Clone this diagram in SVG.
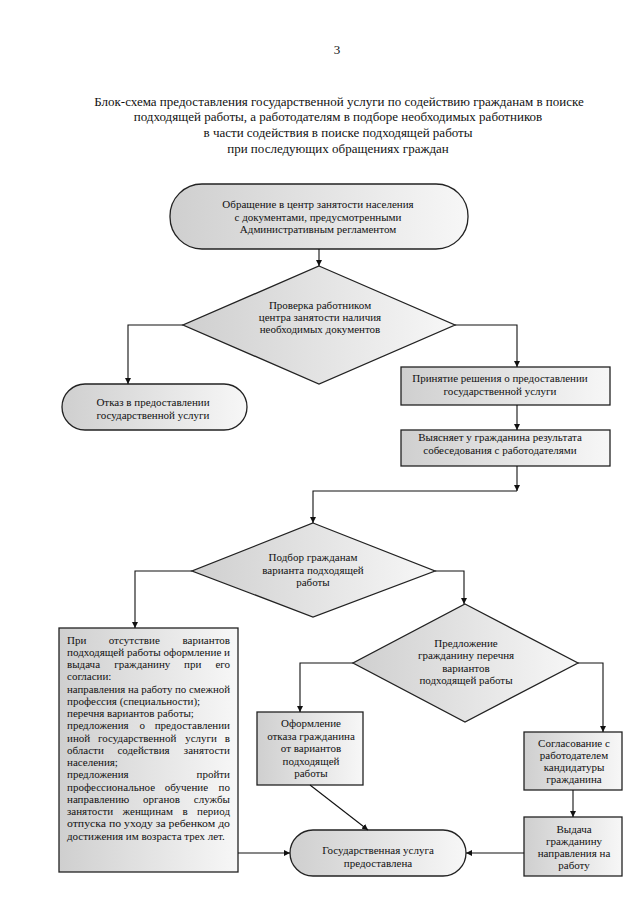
<svg xmlns="http://www.w3.org/2000/svg" width="639" height="905" viewBox="0 0 639 905">
<style>
text{font-family:"Liberation Serif","Times New Roman",serif;fill:#111}
.t{font-size:13px;text-anchor:middle}
.n{font-size:11px;text-anchor:middle}
.b{font-size:11px}
.e{text-anchor:end}
.sh{stroke:#222;stroke-width:1.3;fill:url(#g)}
.ca{fill:none;stroke:#111;stroke-width:1.1;marker-end:url(#a)}
</style>
<defs>
<linearGradient id="g" x1="0" y1="0" x2="1" y2="0">
<stop offset="0" stop-color="#cfcfcf"/>
<stop offset="1" stop-color="#f7f7f7"/>
</linearGradient>
<marker id="a" viewBox="0 0 10 10" refX="10" refY="5" markerWidth="6" markerHeight="6" orient="auto" markerUnits="userSpaceOnUse">
<path d="M0,0 L10,5 L0,10 z" fill="#111"/>
</marker>
</defs>
<rect width="639" height="905" fill="#fff"/>
<text x="337" y="54" class="t">3</text>
<g id="title">
<text x="339" y="106" class="t">Блок-схема предоставления государственной услуги по содействию гражданам в поиске</text>
<text x="338" y="121" class="t">подходящей работы, а работодателям в подборе необходимых работников</text>
<text x="338" y="137" class="t">в части содействия в поиске подходящей работы</text>
<text x="338" y="153" class="t">при последующих обращениях граждан</text>
</g>
<g id="start">
<rect x="170" y="184" width="298" height="65" rx="32" class="sh"/>
<text x="318" y="208" class="n">Обращение в центр занятости населения</text>
<text x="318" y="221" class="n">с документами, предусмотренными</text>
<text x="318" y="233" class="n">Административным регламентом</text>
</g>
<g id="check">
<polygon points="319,266 455,325 319,384 183,325" class="sh"/>
<text x="320" y="309" class="n">Проверка работником</text>
<text x="320" y="321" class="n">центра занятости наличия</text>
<text x="320" y="333" class="n">необходимых документов</text>
</g>
<g id="refuse">
<rect x="62" y="384" width="185" height="46" rx="23" class="sh"/>
<text x="153" y="406" class="n">Отказ в предоставлении</text>
<text x="153" y="419" class="n">государственной услуги</text>
</g>
<g id="decision">
<rect x="401" y="367" width="209" height="38" class="sh"/>
<text x="500" y="382" class="n">Принятие решения о предоставлении</text>
<text x="500" y="395" class="n">государственной услуги</text>
</g>
<g id="interview">
<rect x="401" y="430" width="209" height="36" class="sh"/>
<text x="500" y="441" class="n">Выясняет у гражданина результата</text>
<text x="500" y="454" class="n">собеседования с работодателями</text>
</g>
<g id="select">
<polygon points="313,523 435,571 313,617 192,571" class="sh"/>
<text x="313" y="561" class="n">Подбор гражданам</text>
<text x="313" y="574" class="n">варианта подходящей</text>
<text x="313" y="586" class="n">работы</text>
</g>
<g id="noVariants">
<rect x="59" y="628" width="179" height="244" class="sh"/>
<text class="b" x="67" y="643.5">При</text><text class="b" x="108.7" y="643.5">отсутствие</text><text class="b e" x="230" y="643.5">вариантов</text>
<text class="b" x="67" y="655.8" textLength="163" lengthAdjust="spacingAndGlyphs">подходящей работы оформление и</text>
<text class="b" x="67" y="668">выдача</text><text class="b" x="114.2" y="668">гражданину</text><text class="b" x="184" y="668">при</text><text class="b e" x="230" y="668">его</text>
<text class="b" x="67" y="680.3">согласии:</text>
<text class="b" x="67" y="692.5" textLength="163" lengthAdjust="spacingAndGlyphs">направления на работу по смежной</text>
<text class="b" x="67" y="704.8">профессия (специальности);</text>
<text class="b" x="67" y="717">перечня вариантов работы;</text>
<text class="b" x="67" y="729.3">предложения</text><text class="b" x="139.5" y="729.3">о</text><text class="b e" x="230" y="729.3">предоставлении</text>
<text class="b" x="67" y="741.5">иной</text><text class="b" x="98" y="741.5">государственной</text><text class="b" x="185.2" y="741.5">услуги</text><text class="b e" x="230" y="741.5">в</text>
<text class="b" x="67" y="753.8">области</text><text class="b" x="117.4" y="753.8">содействия</text><text class="b e" x="230" y="753.8">занятости</text>
<text class="b" x="67" y="766">населения;</text>
<text class="b" x="67" y="778.3">предложения</text><text class="b e" x="230" y="778.3">пройти</text>
<text class="b" x="67" y="790.5">профессиональное</text><text class="b" x="164.8" y="790.5">обучение</text><text class="b e" x="230" y="790.5">по</text>
<text class="b" x="67" y="802.8">направлению</text><text class="b" x="143.1" y="802.8">органов</text><text class="b e" x="230" y="802.8">службы</text>
<text class="b" x="67" y="815">занятости</text><text class="b" x="122.6" y="815">женщинам</text><text class="b" x="182.4" y="815">в</text><text class="b e" x="230" y="815">период</text>
<text class="b" x="67" y="827.3" textLength="163" lengthAdjust="spacingAndGlyphs">отпуска по уходу за ребенком до</text>
<text class="b" x="67" y="839.5">достижения им возраста трех лет.</text>
</g>
<g id="offer">
<polygon points="465,604 578,663 465,722 353,663" class="sh"/>
<text x="466" y="647" class="n">Предложение</text>
<text x="466" y="659" class="n">гражданину перечня</text>
<text x="466" y="672" class="n">вариантов</text>
<text x="466" y="684" class="n">подходящей работы</text>
</g>
<g id="decline">
<rect x="257" y="712" width="106" height="73" class="sh"/>
<text x="311" y="727" class="n">Оформление</text>
<text x="311" y="739.5" class="n">отказа гражданина</text>
<text x="311" y="752" class="n">от вариантов</text>
<text x="311" y="764.5" class="n">подходящей</text>
<text x="311" y="777" class="n">работы</text>
</g>
<g id="agree">
<rect x="524" y="732" width="98" height="58" class="sh"/>
<text x="574" y="747" class="n">Согласование с</text>
<text x="574" y="759" class="n">работодателем</text>
<text x="574" y="771" class="n">кандидатуры</text>
<text x="574" y="783" class="n">гражданина</text>
</g>
<g id="issue">
<rect x="524" y="817" width="98" height="59" class="sh"/>
<text x="574" y="833" class="n">Выдача</text>
<text x="574" y="845" class="n">гражданину</text>
<text x="574" y="857" class="n">направления на</text>
<text x="574" y="869" class="n">работу</text>
</g>
<g id="done">
<rect x="290" y="830" width="176" height="46" rx="23" class="sh"/>
<text x="378" y="854" class="n">Государственная услуга</text>
<text x="378" y="867" class="n">предоставлена</text>
</g>
<g id="connectors">
<path d="M319,249 V266" class="ca"/>
<path d="M183,325 H128 V384" class="ca"/>
<path d="M455,325 H517 V367" class="ca"/>
<path d="M517,405 V430" class="ca"/>
<path d="M517,466 V491" class="ca"/>
<path d="M517,491 H313 V523" class="ca"/>
<path d="M192,571 H135 V628" class="ca"/>
<path d="M435,571 H464 V604" class="ca"/>
<path d="M353,663 H300 V712" class="ca"/>
<path d="M578,663 H603 V732" class="ca"/>
<path d="M573,790 V817" class="ca"/>
<path d="M238,853 H290" class="ca"/>
<path d="M524,853 H466" class="ca"/>
<path d="M310,785 L368,830" class="ca"/>
</g>
</svg>
